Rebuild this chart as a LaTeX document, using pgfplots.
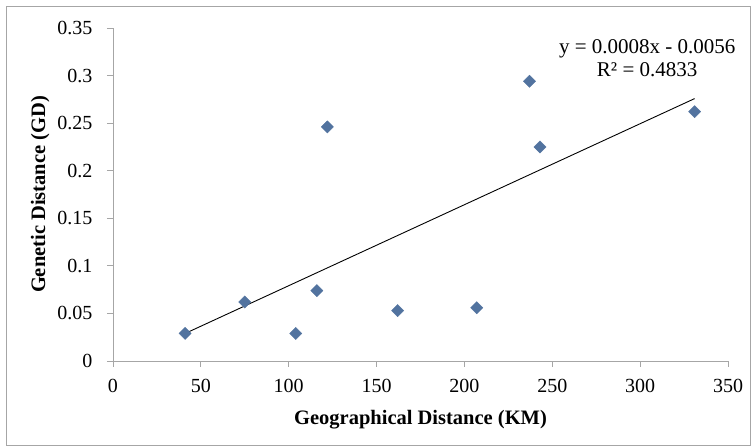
\documentclass[border=0pt]{standalone}
\usepackage{pgfplots}
\pgfplotsset{compat=1.18}
\usepackage{fontspec}
\setmainfont{Liberation Serif}
\definecolor{ptblue}{HTML}{52739F}
\definecolor{axgray}{HTML}{A6A6A6}

\begin{document}
\begin{tikzpicture}
\begin{axis}[
  name=ax, scale only axis, width=615pt, height=333pt,
  xmin=0, xmax=350, ymin=0, ymax=0.35,
  xtick={0,50,...,350}, ytick={0,0.05,...,0.35},
  yticklabel style={/pgf/number format/fixed,/pgf/number format/precision=2,xshift=-11pt},
  xticklabel style={yshift=-9pt},
  /pgf/number format/assume math mode=true,
  axis x line=bottom, axis y line=left,
  axis line style={-,axgray,line width=0.8pt},
  tick style={axgray,line width=0.8pt}, tick align=outside,
  major tick length=6pt,
  tick label style={font=\fontsize{20}{24}\selectfont},
  xlabel={\textbf{Geographical Distance (KM)}},
  ylabel={\textbf{Genetic Distance (GD)}},
  label style={font=\fontsize{20.5}{24}\selectfont},
  xlabel style={yshift=-10pt}, ylabel style={yshift=1pt},
  clip=false]
\addplot[only marks, mark=square*, mark size=4.3pt,
  mark options={rotate=45, fill=ptblue, draw=ptblue}]
  coordinates {(41,0.029) (75,0.062) (104,0.029) (116,0.074) (122,0.246)
               (162,0.053) (207,0.056) (237,0.294) (243,0.225) (331,0.262)};
\addplot[black, line width=0.9pt] coordinates {(41,0.0289) (331,0.2758)};
\node[align=center, font=\fontsize{21}{23}\selectfont, inner sep=0pt]
  at (axis cs:304,0.318) {y = 0.0008x - 0.0056\\R² = 0.4833};
\end{axis}
\path[use as bounding box] ([xshift=-113pt,yshift=-87pt]ax.south west)
  rectangle ([xshift=24pt,yshift=28pt]ax.north east);
\draw[axgray, line width=1pt] ([xshift=-106pt,yshift=-85pt]ax.south west)
  rectangle ([xshift=22pt,yshift=21pt]ax.north east);
\end{tikzpicture}
\end{document}
